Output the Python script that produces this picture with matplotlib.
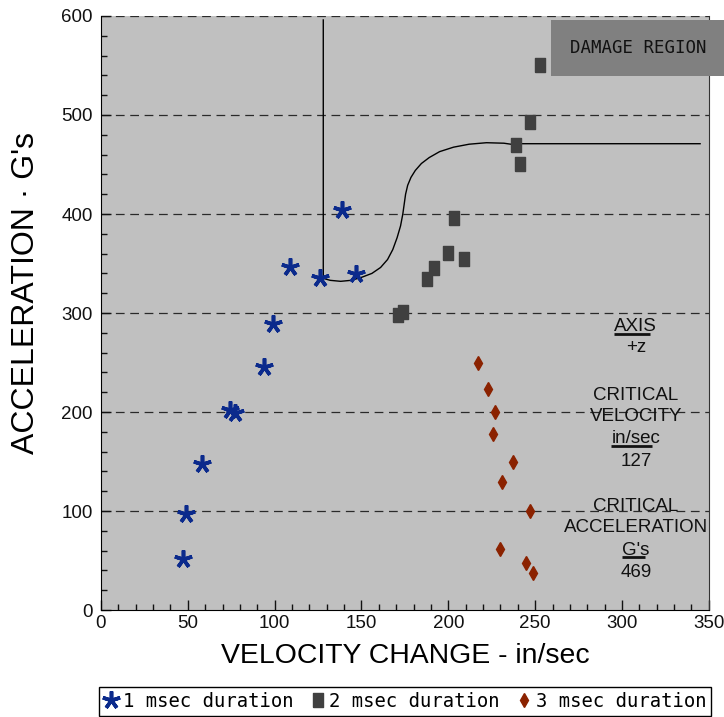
import matplotlib
matplotlib.use('Agg')
import matplotlib.pyplot as plt
from matplotlib.patches import Rectangle
from matplotlib.ticker import MultipleLocator

# ==========================================
# DATA
# ==========================================
# 1 msec duration
v1 = [47, 49, 58, 74, 77, 94, 99, 109, 126, 139, 147]
g1 = [52, 97, 147, 202, 199, 245, 289, 346, 335, 404, 339]

# 2 msec duration
v2 = [171, 174, 188, 192, 200, 209, 203, 239, 241, 247, 253]
g2 = [298, 301, 334, 345, 361, 355, 396, 470, 450, 493, 550]

# 3 msec duration
v3 = [217, 223, 227, 226, 237, 231, 247, 230, 245, 249]
g3 = [250, 223, 200, 178, 150, 129, 100, 62, 48, 37]

# damage boundary curve
curve_v = [128, 128, 132, 138, 144, 150, 156, 161, 165, 168, 170.5, 172.5,
           173.8, 174.6, 175.4, 176.6, 178.5, 181, 184.5, 189, 195, 203, 212,
           222, 232, 236, 240, 345]
curve_g = [596, 335, 333, 332, 333, 336, 340, 346, 354, 364, 376, 388,
           400, 410, 420, 429, 437, 444, 451, 457, 463, 467.5, 470.5,
           472, 471.5, 470.5, 471, 471]

x_ticks = [0, 50, 100, 150, 200, 250, 300, 350]
y_ticks = [0, 100, 200, 300, 400, 500, 600]

# right-hand notes: (text, y, underline)
notes = [("AXIS", 286, True), ("+z", 265, False),
         ("CRITICAL", 217, False), ("VELOCITY", 195, False),
         ("in/sec", 173, True), ("127", 150.5, False),
         ("CRITICAL", 105, False), ("ACCELERATION", 83, False),
         ("G's", 60.6, True), ("469", 37.4, False)]

# ==========================================
# PLOT
# ==========================================
plt.rcParams['font.family'] = ['Liberation Sans', 'DejaVu Sans']

fig = plt.figure(figsize=(7.24, 7.17), dpi=100)
ax = fig.add_axes([0.1395, 0.1492, 0.8395, 0.8285])
ax.set_facecolor('#c0c0c0')

ax.set_xlim(0, 350)
ax.set_ylim(0, 600)
ax.set_xticks(x_ticks)
ax.set_yticks(y_ticks)
ax.xaxis.set_minor_locator(MultipleLocator(10))
ax.yaxis.set_minor_locator(MultipleLocator(20))
ax.tick_params(which='both', direction='in', top=False, right=False,
               labelsize=13.5, colors='#111111')
ax.tick_params(axis='y', pad=6)
ax.tick_params(which='major', length=7, width=1)
ax.tick_params(which='minor', length=4, width=1)
ax.spines['top'].set_visible(False)
ax.spines['right'].set_color('#333333')

for yv in y_ticks[1:]:
    ax.axhline(yv, color='#2a2a2a', lw=0.9, ls=(0, (7, 4.5)), zorder=1)

ax.plot(curve_v, curve_g, color='black', lw=1.0, zorder=2)

star = (5, 2, 0)
box = [(-0.35, -0.5), (0.35, -0.5), (0.35, 0.5), (-0.35, 0.5), (-0.35, -0.5)]
ax.plot(v1, g1, ls='none', marker=star, ms=13, mew=2.6, color='#0b2a8c',
        label='1 msec duration', zorder=3)
ax.plot(v2, g2, ls='none', marker=box, ms=9.5, color='#404040',
        label='2 msec duration', zorder=3)
ax.plot(v3, g3, ls='none', marker='d', ms=7.5, color='#8b2200',
        label='3 msec duration', zorder=3)

ax.set_xlabel('VELOCITY CHANGE - in/sec', fontsize=20.4, labelpad=8)
ax.set_ylabel("ACCELERATION \u00b7 G's", fontsize=23)
ax.yaxis.set_label_coords(-0.098, 0.5345)

texts = []
for txt, yv, ul in notes:
    t = ax.text(308, yv, txt, ha='center', va='center', fontsize=13.5,
                color='#111111', zorder=4)
    texts.append((t, ul))

# damage region label box
fig.patches.append(Rectangle((0.761, 0.894), 0.25, 0.078,
                             transform=fig.transFigure, facecolor='#808080',
                             edgecolor='none', zorder=5))
fig.text(0.881, 0.933, 'DAMAGE REGION', ha='center', va='center',
         fontsize=12.5, family='DejaVu Sans Mono', color='#111111', zorder=6)

leg = fig.legend(loc='center', bbox_to_anchor=(0.5595, 0.0215), ncol=3,
                 prop={'family': 'DejaVu Sans Mono', 'size': 13.6},
                 handlelength=0.8, handletextpad=0.2, columnspacing=0.9,
                 borderpad=0.25, fancybox=False, edgecolor='black',
                 framealpha=1, borderaxespad=0)
leg.get_frame().set_linewidth(1.0)

# underline the unit words
fig.canvas.draw()
renderer = fig.canvas.get_renderer()
inv = ax.transData.inverted()
for t, ul in texts:
    if not ul:
        continue
    bb = t.get_window_extent(renderer)
    x0, y0 = inv.transform((bb.x0, bb.y0 + 1.5))
    x1, _ = inv.transform((bb.x0 + bb.width * 0.82, bb.y0 + 1.5))
    ax.plot([x0, x1], [y0, y0], color='#111111', lw=2, zorder=4,
            solid_capstyle='butt')

plt.savefig('out.png', dpi=100)
print("saved out.png")
